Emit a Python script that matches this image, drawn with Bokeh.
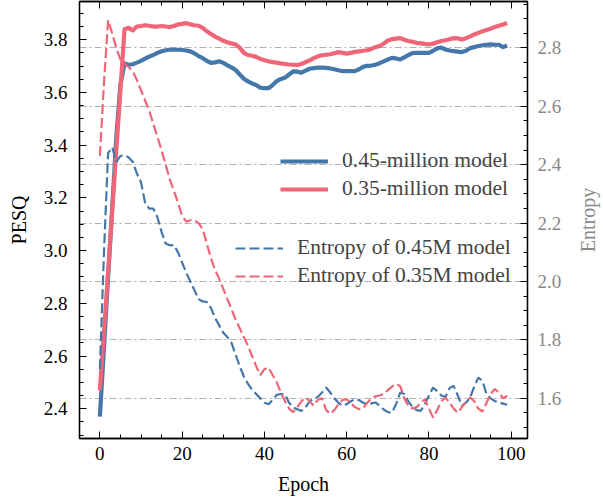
from bokeh.plotting import figure
from bokeh.layouts import row
from bokeh.models import (Range1d, LinearAxis, SingleIntervalTicker, FixedTicker, Grid, Legend,
                          LegendItem, PrintfTickFormatter, CustomJSTickFormatter)
from bokeh.embed import file_html
from bokeh.resources import INLINE

epochs = list(range(100))

pesq_045 = [2.37, 2.63, 2.90, 3.16, 3.43, 3.63, 3.71, 3.705, 3.707, 3.713,
            3.72, 3.728, 3.736, 3.742, 3.75, 3.756, 3.76, 3.762, 3.762, 3.762,
            3.761, 3.759, 3.756, 3.748, 3.738, 3.73, 3.72, 3.712, 3.714, 3.718,
            3.712, 3.703, 3.695, 3.685, 3.668, 3.652, 3.642, 3.634, 3.628, 3.618,
            3.616, 3.616, 3.628, 3.643, 3.651, 3.656, 3.668, 3.68, 3.679, 3.675,
            3.683, 3.69, 3.692, 3.694, 3.694, 3.693, 3.691, 3.688, 3.684, 3.681,
            3.681, 3.681, 3.681, 3.688, 3.697, 3.701, 3.702, 3.705, 3.711, 3.718,
            3.725, 3.731, 3.729, 3.725, 3.733, 3.742, 3.749, 3.75, 3.75, 3.75,
            3.75, 3.758, 3.767, 3.77, 3.763, 3.759, 3.757, 3.755, 3.753, 3.758,
            3.768, 3.772, 3.776, 3.779, 3.781, 3.782, 3.781, 3.781, 3.772, 3.778]

pesq_035 = [2.47, 2.69, 2.92, 3.15, 3.38, 3.61, 3.84, 3.845, 3.835, 3.85,
            3.852, 3.855, 3.853, 3.85, 3.85, 3.852, 3.85, 3.848, 3.852, 3.858,
            3.86, 3.863, 3.858, 3.855, 3.853, 3.845, 3.832, 3.822, 3.812, 3.804,
            3.796, 3.79, 3.786, 3.782, 3.77, 3.75, 3.742, 3.739, 3.735, 3.727,
            3.722, 3.718, 3.715, 3.713, 3.71, 3.708, 3.706, 3.705, 3.704, 3.708,
            3.715, 3.722, 3.73, 3.737, 3.741, 3.743, 3.745, 3.749, 3.753, 3.75,
            3.747, 3.75, 3.754, 3.756, 3.758, 3.76, 3.765, 3.772, 3.776, 3.785,
            3.797, 3.802, 3.804, 3.806, 3.8, 3.795, 3.792, 3.788, 3.786, 3.784,
            3.782, 3.785, 3.79, 3.795, 3.798, 3.802, 3.806, 3.805, 3.801, 3.806,
            3.813, 3.82, 3.826, 3.832, 3.837, 3.842, 3.848, 3.853, 3.858, 3.863]

ent_045 = [1.70, 2.10, 2.44, 2.46, 2.41, 2.43, 2.433, 2.425, 2.41, 2.37,
           2.34, 2.27, 2.25, 2.25, 2.22, 2.17, 2.13, 2.124, 2.125, 2.10,
           2.065, 2.03, 2.0, 1.97, 1.94, 1.932, 1.93, 1.91, 1.875, 1.85,
           1.825, 1.81, 1.79, 1.75, 1.71, 1.675, 1.65, 1.63, 1.615, 1.60,
           1.585, 1.58, 1.595, 1.612, 1.615, 1.614, 1.585, 1.568, 1.563, 1.557,
           1.57, 1.59, 1.60, 1.605, 1.62, 1.637, 1.62, 1.60, 1.585, 1.575,
           1.58, 1.59, 1.597, 1.594, 1.585, 1.58, 1.583, 1.586, 1.575, 1.562,
           1.553, 1.551, 1.58, 1.62, 1.615, 1.59, 1.57, 1.56, 1.557, 1.58,
           1.61, 1.637, 1.625, 1.61, 1.605, 1.635, 1.643, 1.61, 1.574, 1.585,
           1.603, 1.64, 1.671, 1.66, 1.614, 1.60, 1.591, 1.586, 1.582, 1.578]

ent_035 = [2.43, 2.68, 2.895, 2.85, 2.80, 2.76, 2.745, 2.735, 2.72, 2.69,
           2.655, 2.62, 2.585, 2.54, 2.495, 2.45, 2.40, 2.35, 2.31, 2.27,
           2.225, 2.205, 2.21, 2.21, 2.20, 2.18, 2.13, 2.08, 2.04, 2.01,
           1.975, 1.94, 1.905, 1.87, 1.84, 1.81, 1.78, 1.745, 1.71, 1.68,
           1.70, 1.706, 1.68, 1.655, 1.62, 1.59, 1.565, 1.553, 1.57, 1.59,
           1.603, 1.59, 1.575, 1.595, 1.60, 1.56, 1.547, 1.56, 1.58, 1.595,
           1.597, 1.585, 1.57, 1.563, 1.567, 1.585, 1.60, 1.607, 1.61, 1.615,
           1.628, 1.64, 1.649, 1.642, 1.60, 1.575, 1.565, 1.57, 1.585, 1.597,
           1.565, 1.534, 1.56, 1.59, 1.603, 1.585, 1.565, 1.551, 1.57, 1.59,
           1.603, 1.59, 1.565, 1.555, 1.585, 1.615, 1.632, 1.62, 1.60, 1.609]

labels_solid = ["0.45-million model", "0.35-million model"]
labels_dash = ["Entropy of 0.45M model", "Entropy of 0.35M model"]
right_label = "Entropy"

BLUE = "#4477AA"
RED = "#EE6677"
FONT = "Liberation Serif"
GREY = "#888888"

fig = figure(width=573, height=501, output_backend="svg", toolbar_location=None,
             x_range=Range1d(-4.95, 103.95), y_range=Range1d(2.287, 3.945),
             min_border_left=79, min_border_right=46, min_border_top=1, min_border_bottom=63)
fig.extra_y_ranges = {"ent": Range1d(1.4626, 2.959)}
fig.outline_line_color = "black"
fig.outline_line_width = 1.3
fig.xgrid.visible = False
fig.ygrid.visible = False
fig.background_fill_color = "white"
fig.border_fill_color = "white"

def style_axis(ax, color="black"):
    ax.axis_line_color = "black"
    ax.axis_line_width = 1.3
    ax.major_tick_in = 7
    ax.major_tick_out = 0
    ax.minor_tick_in = 4
    ax.minor_tick_out = 0
    ax.major_tick_line_color = "black"
    ax.minor_tick_line_color = "black"
    ax.major_tick_line_width = 1
    ax.minor_tick_line_width = 1
    ax.major_label_text_font = FONT
    ax.major_label_text_font_size = "19px"
    ax.major_label_text_color = color
    ax.axis_label_text_font = FONT
    ax.axis_label_text_font_size = "20px"
    ax.axis_label_text_font_style = "normal"
    ax.axis_label_text_color = color

xt = SingleIntervalTicker(interval=20, num_minor_ticks=4)
yt = SingleIntervalTicker(interval=0.2, num_minor_ticks=4)
et = SingleIntervalTicker(interval=0.2, num_minor_ticks=4)

fig.xaxis[0].ticker = xt
fig.yaxis[0].ticker = yt
fig.yaxis[0].formatter = PrintfTickFormatter(format="%.1f")
style_axis(fig.xaxis[0])
style_axis(fig.yaxis[0])
fig.xaxis[0].axis_label = "Epoch"
fig.yaxis[0].axis_label = "PESQ"
fig.xaxis[0].major_label_standoff = 8
fig.xaxis[0].axis_label_standoff = 10
fig.yaxis[0].major_label_standoff = 12
fig.yaxis[0].axis_label_standoff = 11

top = LinearAxis(ticker=SingleIntervalTicker(interval=20, num_minor_ticks=4),
                 formatter=CustomJSTickFormatter(code="return ''"))
style_axis(top)
top.major_label_text_font_size = "1px"
top.major_label_standoff = 0
fig.add_layout(top, "above")

right = LinearAxis(y_range_name="ent", ticker=et,
                   formatter=PrintfTickFormatter(format="%.1f"))
style_axis(right, GREY)
right.major_label_standoff = 10
fig.add_layout(right, "right")

grid = Grid(dimension=1, ticker=et, y_range_name="ent", grid_line_color="#b0b0b0",
            grid_line_width=1, grid_line_dash="7 3 2 3")
fig.add_layout(grid)

r_b = fig.line(epochs, pesq_045, line_color=BLUE, line_width=4.2, line_join="round")
r_r = fig.line(epochs, pesq_035, line_color=RED, line_width=4.2, line_join="round")
d_b = fig.line(epochs, ent_045, y_range_name="ent", line_color=BLUE, line_width=2.2, line_dash="10 4")
d_r = fig.line(epochs, ent_035, y_range_name="ent", line_color=RED, line_width=2.2, line_dash="10 4")

def make_legend(items, loc):
    lg = Legend(items=items, location=loc, padding=0, margin=0, spacing=3,
                glyph_width=48, glyph_height=20, label_height=20, label_standoff=14,
                label_text_font=FONT, label_text_font_size="21.5px",
                background_fill_alpha=0, border_line_alpha=0)
    return lg

lg1 = make_legend([LegendItem(label=labels_solid[0], renderers=[r_b]),
                   LegendItem(label=labels_solid[1], renderers=[r_r])], (201, 237))
lg2 = make_legend([LegendItem(label=labels_dash[0], renderers=[d_b]),
                   LegendItem(label=labels_dash[1], renderers=[d_r])], (156, 150))
fig.add_layout(lg1, "center")
fig.add_layout(lg2, "center")

# narrow companion figure that only carries the right-hand axis title
side = figure(width=30, height=501, output_backend="svg", toolbar_location=None,
              x_range=Range1d(0, 1), y_range=Range1d(0, 1),
              min_border_left=15, min_border_right=0, min_border_top=1, min_border_bottom=63)
side.outline_line_color = None
side.xaxis.visible = False
side.grid.visible = False
side.background_fill_color = "white"
side.border_fill_color = "white"
sy = side.yaxis[0]
sy.ticker = FixedTicker(ticks=[])
sy.axis_line_color = None
sy.major_tick_out = 0
sy.major_tick_in = 0
sy.minor_tick_out = 0
sy.minor_tick_in = 0
sy.axis_label = right_label
sy.axis_label_standoff = 0
sy.axis_label_text_font = FONT
sy.axis_label_text_font_size = "20px"
sy.axis_label_text_font_style = "normal"
sy.axis_label_text_color = GREY

p = row(fig, side)

open("out.html", "w").write(file_html(p, INLINE))
